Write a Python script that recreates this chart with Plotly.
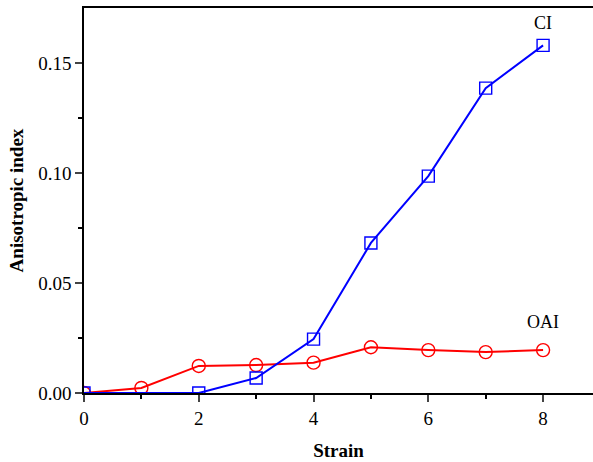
import plotly.graph_objects as go

strain = [0, 1, 2, 3, 4, 5, 6, 7, 8]
ci = [0.0, None, 0.0, 0.0068, 0.0245, 0.0682, 0.0986, 0.1386, 0.158]
oai = [0.0, 0.0023, 0.0123, 0.0127, 0.0138, 0.0208, 0.0195, 0.0186, 0.0195]

FONT = "Liberation Serif, Times New Roman, serif"

fig = go.Figure()
fig.add_trace(go.Scatter(
    x=strain, y=oai, mode="lines+markers", name="OAI",
    line=dict(color="#ff0000", width=2),
    marker=dict(symbol="circle-open", size=13, color="#ff0000", line=dict(width=1.4)),
    cliponaxis=True,
))
fig.add_trace(go.Scatter(
    x=strain, y=ci, mode="lines+markers", name="CI", connectgaps=True,
    line=dict(color="#0000ff", width=2),
    marker=dict(symbol="square-open", size=12, color="#0000ff", line=dict(width=1.4)),
    cliponaxis=True,
))

fig.add_annotation(x=8, y=ci[-1], text="CI", showarrow=False, xanchor="center",
                   yanchor="bottom", yshift=10, font=dict(family=FONT, size=18, color="black"))
fig.add_annotation(x=8, y=oai[-1], text="OAI", showarrow=False, xanchor="center",
                   yanchor="bottom", yshift=16, font=dict(family=FONT, size=18, color="black"))

fig.update_layout(
    width=593, height=462,
    margin=dict(l=84, r=0, t=8, b=69),
    plot_bgcolor="white", paper_bgcolor="white",
    showlegend=False,
    font=dict(family=FONT, size=19, color="black"),
    xaxis=dict(
        range=[0, 8.87], tickvals=[0, 2, 4, 6, 8], ticks="outside", ticklen=7,
        tickwidth=1.5, showline=True, linecolor="black", linewidth=1.5, mirror=True,
        showgrid=False, zeroline=False, tickfont=dict(size=19),
        minor=dict(tickvals=[1, 3, 5, 7], ticks="outside", ticklen=4, tickcolor="black"),
        title=dict(text="<b>Strain</b>", font=dict(family=FONT, size=19), standoff=16),
    ),
    yaxis=dict(
        range=[0, 0.175], tickvals=[0, 0.05, 0.10, 0.15], tickformat=".2f",
        ticks="outside", ticklen=7, tickwidth=1.5, showline=True, linecolor="black",
        linewidth=1.5, showgrid=False, zeroline=False, tickfont=dict(size=19),
        minor=dict(tickvals=[0.025, 0.075, 0.125], ticks="outside", ticklen=4, tickcolor="black"),
        title=dict(text="<b>Anisotropic index</b>", font=dict(family=FONT, size=19), standoff=10),
    ),
)

fig.write_html("out.html")
